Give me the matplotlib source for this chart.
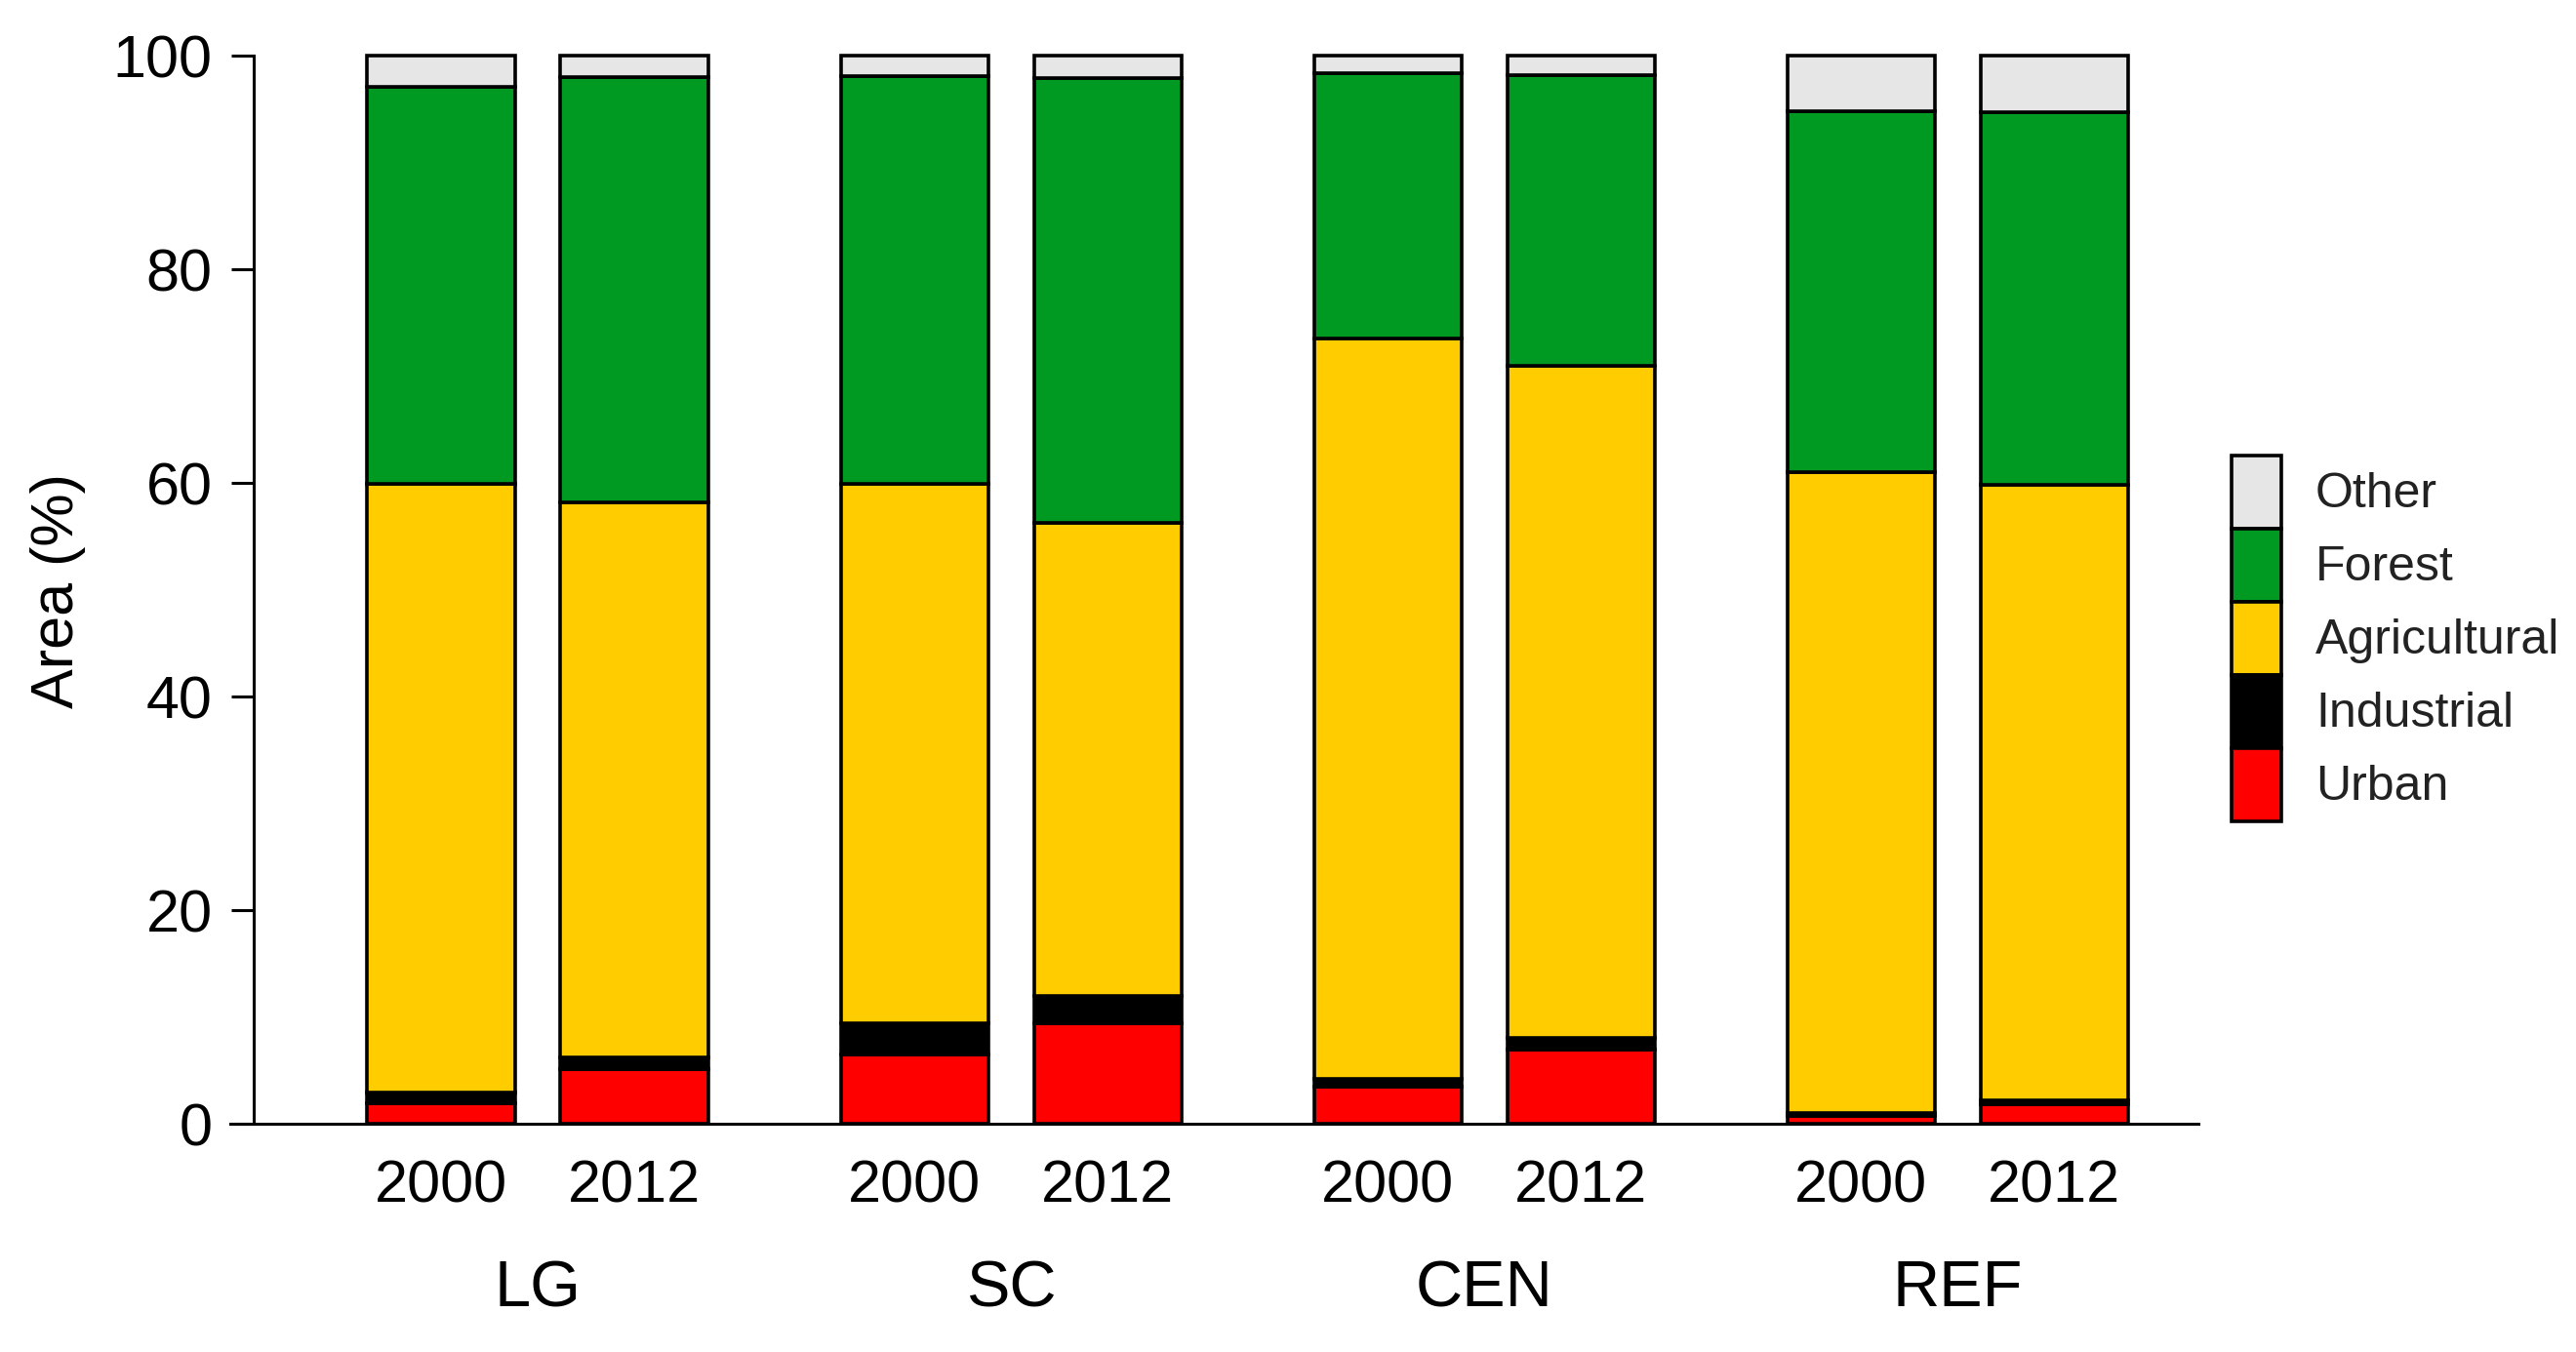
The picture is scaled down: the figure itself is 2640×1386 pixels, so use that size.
import matplotlib
matplotlib.use('Agg')
import matplotlib.pyplot as plt
import numpy as np

plt.rcParams['font.family'] = ['Liberation Sans', 'DejaVu Sans']

# --- Données (% de surface) ---
sites = ['LG', 'SC', 'CEN', 'REF']
years = ['2000', '2012']
classes = ['Urban', 'Industrial', 'Agricultural', 'Forest', 'Other']
colors = ['#FF0000', '#000000', '#FFCC00', '#009922', '#E6E6E6']

# ordre : LG2000, LG2012, SC2000, SC2012, CEN2000, CEN2012, REF2000, REF2012
urban = [1.9, 5.1, 6.5, 9.4, 3.5, 6.9, 0.7, 1.8]
industrial = [1.0, 1.1, 2.9, 2.6, 0.7, 1.1, 0.3, 0.4]
agricultural = [57.0, 52.0, 50.5, 44.3, 69.3, 63.0, 60.0, 57.6]
forest = [37.2, 39.8, 38.2, 41.6, 24.9, 27.2, 33.8, 34.9]
other = [2.9, 2.0, 1.9, 2.1, 1.6, 1.8, 5.2, 5.3]
series = [urban, industrial, agricultural, forest, other]

fig = plt.figure(figsize=(13.2, 6.93), dpi=200)
ax = fig.add_axes([0.0894, 0.1688, 0.764, 0.790])

group_step = 2.45
xpos = np.array([g * group_step + k for g in range(len(sites)) for k in range(len(years))])
width = 0.763

bottom = np.zeros(len(xpos))
handles = []
for vals, lab, col in zip(series, classes, colors):
    vals = np.array(vals)
    b = ax.bar(xpos, vals, width, bottom=bottom, color=col, edgecolor='black',
               linewidth=1.3, label=lab, clip_on=False, zorder=3)
    handles.append(b)
    bottom += vals

ax.set_ylim(0, 100)
ax.set_xlim(-1.091, 9.096)
ax.set_yticks([0, 20, 40, 60, 80, 100])
ax.tick_params(axis='y', labelsize=22, length=8.3, width=1.1, pad=7, direction='out')
ax.set_xticks(xpos)
ax.set_xticklabels(years * len(sites))
ax.tick_params(axis='x', labelsize=22, length=0, pad=13)

for s in ['top', 'right']:
    ax.spines[s].set_visible(False)
ax.spines['left'].set_position(('axes', 24 / 2017))
ax.spines['left'].set_bounds(0, 100)
for s in ['left', 'bottom']:
    ax.spines[s].set_linewidth(1.1)

# étiquettes de groupe
for g, site in enumerate(sites):
    xc = g * group_step + 0.5
    ax.text(xc, -0.1708, site, transform=ax.get_xaxis_transform(),
            ha='center', va='baseline', fontsize=24)

fig.text(59 / 2640, 0.5628, 'Area (%)', rotation=90, ha='center', va='center', fontsize=22)

leg = ax.legend(handles[::-1], classes[::-1], loc='upper left',
                bbox_to_anchor=(2287 / 2640, 1 - 467 / 1386), bbox_transform=fig.transFigure,
                frameon=False, fontsize=18, labelspacing=0, handleheight=1.93,
                handlelength=1.02, handletextpad=0.7, borderpad=0, borderaxespad=0)
for t in leg.get_texts():
    t.set_color('#222222')

plt.savefig('out.png', dpi=200, facecolor='white')
print("OK")
